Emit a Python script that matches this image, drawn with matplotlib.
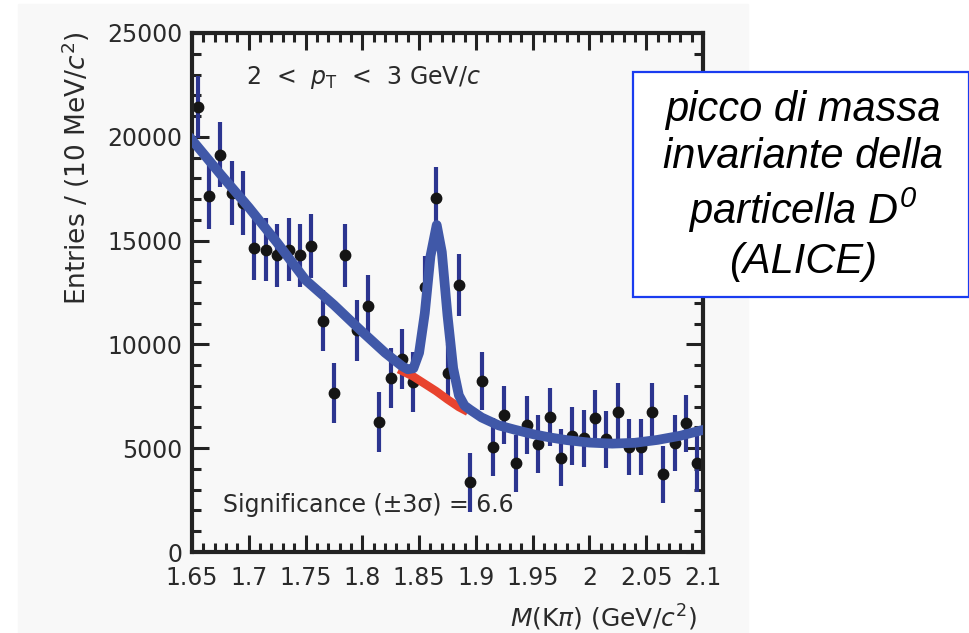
import matplotlib
matplotlib.use("Agg")
import matplotlib.pyplot as plt
from matplotlib.patches import Rectangle
from matplotlib.ticker import MultipleLocator

# -------------------------------
# DATA
# -------------------------------

# bin centres of M(K pi) in GeV/c^2 (10 MeV bins)
mass = [1.655, 1.665, 1.675, 1.685, 1.695, 1.705, 1.715, 1.725, 1.735, 1.745,
        1.755, 1.765, 1.775, 1.785, 1.795, 1.805, 1.815, 1.825, 1.835, 1.845,
        1.855, 1.865, 1.875, 1.885, 1.895, 1.905, 1.915, 1.925, 1.935, 1.945,
        1.955, 1.965, 1.975, 1.985, 1.995, 2.005, 2.015, 2.025, 2.035, 2.045,
        2.055, 2.065, 2.075, 2.085, 2.095]

entries = [21420, 17150, 19140, 17300, 16800, 14630, 14550, 14300, 14550, 14300,
           14740, 11140, 7670, 14300, 10690, 11850, 6280, 8400, 9300, 8200,
           12780, 17040, 8600, 12860, 3360, 8250, 5070, 6600, 4270, 6120,
           5200, 6490, 4540, 5590, 5480, 6440, 5430, 6760, 5070, 5070,
           6730, 3740, 5240, 6200, 4270]

errors = [1500, 1570, 1570, 1550, 1550, 1520, 1520, 1520, 1520, 1520,
          1520, 1480, 1450, 1520, 1470, 1480, 1450, 1450, 1450, 1450,
          1480, 1500, 1420, 1480, 1420, 1400, 1400, 1420, 1380, 1400,
          1380, 1400, 1380, 1380, 1380, 1340, 1380, 1400, 1360, 1360,
          1400, 1360, 1360, 1380, 1360]

# total fit (background + signal)
fit_x = [1.65, 1.675, 1.70, 1.725, 1.75, 1.775, 1.80, 1.82, 1.835, 1.840,
         1.845, 1.850, 1.855, 1.860, 1.8655, 1.870, 1.875, 1.880, 1.885, 1.890,
         1.895, 1.905, 1.92, 1.935, 1.95, 1.965, 1.98, 2.00, 2.02, 2.04,
         2.06, 2.08, 2.10]
fit_y = [19850, 18200, 16600, 14900, 13100, 11900, 10600, 9600, 8950, 8800,
         8850, 9600, 11500, 14250, 15750, 14450, 11400, 8850, 7550, 7050,
         6850, 6480, 6100, 5880, 5680, 5520, 5390, 5270, 5220, 5260,
         5400, 5600, 5880]

# background under the peak
bkg_x = [1.832, 1.845, 1.855, 1.865, 1.875, 1.885, 1.893]
bkg_y = [8800, 8450, 8100, 7750, 7350, 6980, 6750]

annotation = "picco di massa\ninvariante della\nparticella $D^0$\n(ALICE)"

# -------------------------------
# FIGURE
# -------------------------------

plt.rcParams["font.family"] = ["DejaVu Sans"]
plt.rcParams["mathtext.fontset"] = "custom"
plt.rcParams["mathtext.rm"] = "Liberation Sans:italic"
plt.rcParams["mathtext.it"] = "Liberation Sans:italic"

fig = plt.figure(figsize=(9.7, 6.33), dpi=100)
fig.patch.set_facecolor("white")
fig.patches.append(Rectangle((18 / 970, 0), (748 - 18) / 970, 629 / 633,
                             transform=fig.transFigure, color="#f8f8f8", zorder=-10))

ax = fig.add_axes([192 / 970, 1 - 552 / 633, (703 - 192) / 970, (552 - 33) / 633])
ax.set_facecolor("#f8f8f8")

ax.errorbar(mass, entries, yerr=errors, fmt="o", color="#151515", ms=7.5,
            ecolor="#2c3590", elinewidth=3, capsize=0, zorder=2)
ax.plot(bkg_x, bkg_y, color="#e8432e", lw=6, solid_capstyle="butt", zorder=3)
ax.plot(fit_x, fit_y, color="#4058a8", lw=7, zorder=4)

ax.set_xlim(1.65, 2.1)
ax.set_ylim(0, 25000)
ax.xaxis.set_minor_locator(MultipleLocator(0.01))
ax.yaxis.set_major_locator(MultipleLocator(5000))
ax.yaxis.set_minor_locator(MultipleLocator(1000))
ax.set_xticks([1.65, 1.7, 1.75, 1.8, 1.85, 1.9, 1.95, 2.0, 2.05, 2.1])
ax.set_xticklabels(["1.65", "1.7", "1.75", "1.8", "1.85", "1.9", "1.95", "2", "2.05", "2.1"])

ax.tick_params(which="both", direction="in", top=True, right=True,
               color="#222222", width=2.2, labelsize=17, labelcolor="#2a2a2a")
ax.tick_params(which="major", length=12)
ax.tick_params(which="minor", length=6.5)
ax.tick_params(axis="x", which="major", pad=10)
ax.tick_params(axis="y", which="major", pad=7)
for s in ax.spines.values():
    s.set_linewidth(3)
    s.set_color("#222222")

ax.text(0.105, 0.915, r"2  <  $p_{\rm T}$  <  3 GeV/$c$", transform=ax.transAxes,
        fontsize=17, color="#2a2a2a", va="center", math_fontfamily="dejavusans")
ax.text(0.06, 0.09, "Significance (±3σ) = 6.6", transform=ax.transAxes,
        fontsize=17, color="#2a2a2a", va="center")

fig.text(697 / 970, 1 - 618 / 633, r"$M$(K$\pi$) (GeV/$c^2$)", ha="right", va="center",
         fontsize=18, color="#2a2a2a", math_fontfamily="dejavusans")
fig.text(76 / 970, 1 - 168 / 633, r"Entries / (10 MeV/$c^2$)", rotation=90,
         ha="center", va="center", fontsize=19, color="#2a2a2a",
         math_fontfamily="dejavusans")

# annotation box on the right
box = Rectangle((633 / 970, 1 - 297 / 633), (969 - 633) / 970, (297 - 72) / 633,
                transform=fig.transFigure, facecolor="white", edgecolor="#1a3cf0",
                lw=1.6, zorder=5)
fig.add_artist(box)
fig.text(803 / 970, 1 - 186 / 633, annotation, ha="center", va="center",
         fontsize=30, style="italic", family="Liberation Sans", linespacing=1.22,
         math_fontfamily="custom", zorder=6)

fig.savefig("out.png", dpi=100)
